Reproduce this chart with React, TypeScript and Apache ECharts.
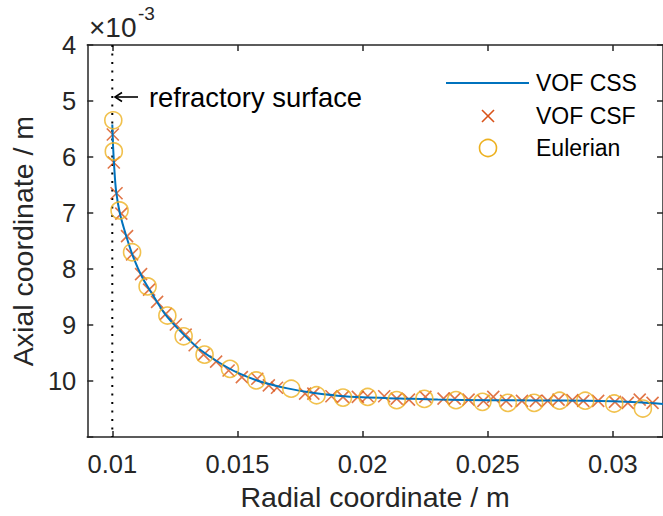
import React, { useEffect, useRef } from "react";
import * as echarts from "echarts";

// VOF CSS (blue line)
const cssX = [0.01, 0.01003, 0.01008, 0.01015, 0.0103, 0.01055, 0.01085, 0.0112, 0.0116, 0.0121, 0.0127, 0.0134, 0.0142, 0.015, 0.016, 0.017, 0.018, 0.019, 0.02, 0.0215, 0.023, 0.025, 0.027, 0.029, 0.03, 0.031, 0.032];
const cssY = [5.42, 5.8, 6.2, 6.6, 7.0, 7.4, 7.8, 8.15, 8.45, 8.8, 9.1, 9.4, 9.65, 9.85, 10.02, 10.13, 10.21, 10.26, 10.29, 10.31, 10.33, 10.34, 10.345, 10.35, 10.36, 10.38, 10.41];

// VOF CSF (crosses)
const csfX = [0.01002, 0.01006, 0.01017, 0.01036, 0.01059, 0.01079, 0.01115, 0.01147, 0.01179, 0.01214, 0.01254, 0.01293, 0.01329, 0.013648, 0.014148, 0.014646, 0.015175, 0.015791, 0.016253, 0.016581, 0.017703, 0.018031, 0.018754, 0.019216, 0.019809, 0.020203, 0.020863, 0.021361, 0.021851, 0.022507, 0.023233, 0.02368, 0.024233, 0.024826, 0.02522, 0.025734, 0.026366, 0.02692, 0.027393, 0.027828, 0.028381, 0.028815, 0.02941, 0.03008, 0.030594, 0.03107, 0.031583];
const csfY = [5.597, 6.097, 6.646, 7.011, 7.413, 7.737, 8.09, 8.368, 8.585, 8.8, 8.99, 9.17, 9.36, 9.528, 9.652, 9.811, 9.929, 9.959, 10.076, 10.118, 10.225, 10.225, 10.27, 10.283, 10.283, 10.27, 10.27, 10.313, 10.33, 10.283, 10.313, 10.313, 10.33, 10.354, 10.283, 10.354, 10.354, 10.354, 10.354, 10.33, 10.34, 10.354, 10.354, 10.37, 10.39, 10.33, 10.39];

// Eulerian (circles)
const eulX = [0.01004, 0.01006, 0.01029, 0.01079, 0.01141, 0.0122, 0.01285, 0.013686, 0.014701, 0.015752, 0.01715, 0.01816, 0.019216, 0.020203, 0.021361, 0.022467, 0.023731, 0.024786, 0.025801, 0.026852, 0.027867, 0.028894, 0.030051, 0.031197];
const eulY = [5.344, 5.9, 6.953, 7.7, 8.31, 8.83, 9.2, 9.528, 9.782, 9.988, 10.136, 10.253, 10.295, 10.283, 10.34, 10.318, 10.34, 10.371, 10.389, 10.389, 10.35, 10.35, 10.4, 10.49];

const xTicks = [0.01, 0.015, 0.02, 0.025, 0.03];
const surfaceX = 0.01;

const FONT = "'Liberation Sans', Arial, Helvetica, sans-serif";
const AX = "#262626";
const BLUE = "#0072BD";
const RED = "#D95319";
const YEL = "#EDB120";

export default function App() {
  const ref = useRef<HTMLDivElement>(null);
  useEffect(() => {
    if (!ref.current) return;
    const chart = echarts.init(ref.current, null, { renderer: "svg" });
    const zip = (xs: number[], ys: number[]) => xs.map((x, i) => [x, ys[i]]);
    const xBase = {
      type: "value",
      min: 0.009,
      max: 0.032,
      splitLine: { show: false },
      axisLine: { show: true, onZero: false, lineStyle: { color: AX, width: 1.5 } },
      axisTick: { show: true, inside: true, length: 6, customValues: xTicks, lineStyle: { color: AX, width: 1.5 } },
    };
    const yBase = {
      type: "value",
      inverse: true,
      min: 4,
      max: 11,
      interval: 1,
      splitLine: { show: false },
      axisLine: { show: true, onZero: false, lineStyle: { color: AX, width: 1.5 } },
      axisTick: { show: true, inside: true, length: 6, lineStyle: { color: AX, width: 1.5 } },
    };
    const option: any = {
      animation: false,
      backgroundColor: "#ffffff",
      grid: { left: 87, top: 45, width: 582, height: 396, containLabel: false },
      xAxis: [
        {
          ...xBase,
          position: "bottom",
          name: "Radial coordinate / m",
          nameLocation: "middle",
          nameGap: 41,
          nameTextStyle: { fontFamily: FONT, fontSize: 28.5, color: AX },
          axisLabel: {
            customValues: xTicks,
            margin: 14,
            fontFamily: FONT,
            fontSize: 25.5,
            color: AX,
            formatter: (v: number) => String(+v.toFixed(4)),
          },
        },
        { ...xBase, position: "top", axisLabel: { show: false } },
      ],
      yAxis: [
        {
          ...yBase,
          position: "left",
          name: "Axial coordinate / m",
          nameLocation: "middle",
          nameGap: 50,
          nameRotate: 90,
          nameTextStyle: { fontFamily: FONT, fontSize: 28.5, color: AX },
          axisLabel: {
            margin: 11,
            fontFamily: FONT,
            fontSize: 25.5,
            color: AX,
            formatter: (v: number) => (v === 11 ? "" : String(v)),
          },
        },
        { ...yBase, position: "right", axisLabel: { show: false } },
      ],
      series: [
        {
          name: "surface",
          type: "line",
          data: [[surfaceX, 4], [surfaceX, 11]],
          symbol: "none",
          lineStyle: { color: "#000", width: 2, type: [2, 6.5] },
          z: 1,
        },
        {
          name: "VOF CSF",
          type: "scatter",
          data: zip(csfX, csfY),
          symbol: "path://M0,0L10,10M10,0L0,10",
          symbolSize: 12,
          itemStyle: { color: "rgba(0,0,0,0)", borderColor: RED, borderWidth: 1.6 },
          z: 2,
        },
        {
          name: "VOF CSS",
          type: "line",
          data: zip(cssX, cssY),
          symbol: "none",
          smooth: 0.3,
          lineStyle: { color: BLUE, width: 2 },
          z: 3,
        },
        {
          name: "Eulerian",
          type: "scatter",
          data: zip(eulX, eulY),
          symbol: "circle",
          symbolSize: 17,
          itemStyle: { color: "rgba(0,0,0,0)", borderColor: YEL, borderWidth: 1.6 },
          z: 4,
        },
      ],
      graphic: [
        { type: "text", left: 89, top: 13, style: { text: "×10", font: `28px ${FONT}`, fill: AX } },
        { type: "text", left: 138, top: 4, style: { text: "-3", font: `19px ${FONT}`, fill: AX } },
        { type: "line", shape: { x1: 115, y1: 97, x2: 138, y2: 97 }, style: { stroke: "#000", lineWidth: 1.6 } },
        { type: "polyline", shape: { points: [[122, 92.5], [115, 97], [122, 101.5]] }, style: { stroke: "#000", lineWidth: 1.6, fill: "none" } },
        { type: "text", x: 149, y: 97, style: { text: "refractory surface", font: `27.4px ${FONT}`, fill: "#000", textVerticalAlign: "middle", textAlign: "left" } },
        { type: "line", shape: { x1: 446, y1: 83, x2: 529, y2: 83 }, style: { stroke: BLUE, lineWidth: 2 } },
        { type: "text", x: 536, y: 83, style: { text: "VOF CSS", font: `23px ${FONT}`, fill: "#000", textVerticalAlign: "middle" } },
        { type: "line", shape: { x1: 482, y1: 110, x2: 494, y2: 122 }, style: { stroke: RED, lineWidth: 1.6 } },
        { type: "line", shape: { x1: 494, y1: 110, x2: 482, y2: 122 }, style: { stroke: RED, lineWidth: 1.6 } },
        { type: "text", x: 536, y: 116, style: { text: "VOF CSF", font: `23px ${FONT}`, fill: "#000", textVerticalAlign: "middle" } },
        { type: "circle", shape: { cx: 488, cy: 148, r: 8.5 }, style: { fill: "none", stroke: YEL, lineWidth: 1.6 } },
        { type: "text", x: 536, y: 148, style: { text: "Eulerian", font: `23px ${FONT}`, fill: "#000", textVerticalAlign: "middle" } },
      ],
    };
    chart.setOption(option);
    return () => chart.dispose();
  }, []);
  return (
    <div
      ref={ref}
      style={{ position: "fixed", left: 0, top: 0, width: 663, height: 516, background: "#fff" }}
    />
  );
}
